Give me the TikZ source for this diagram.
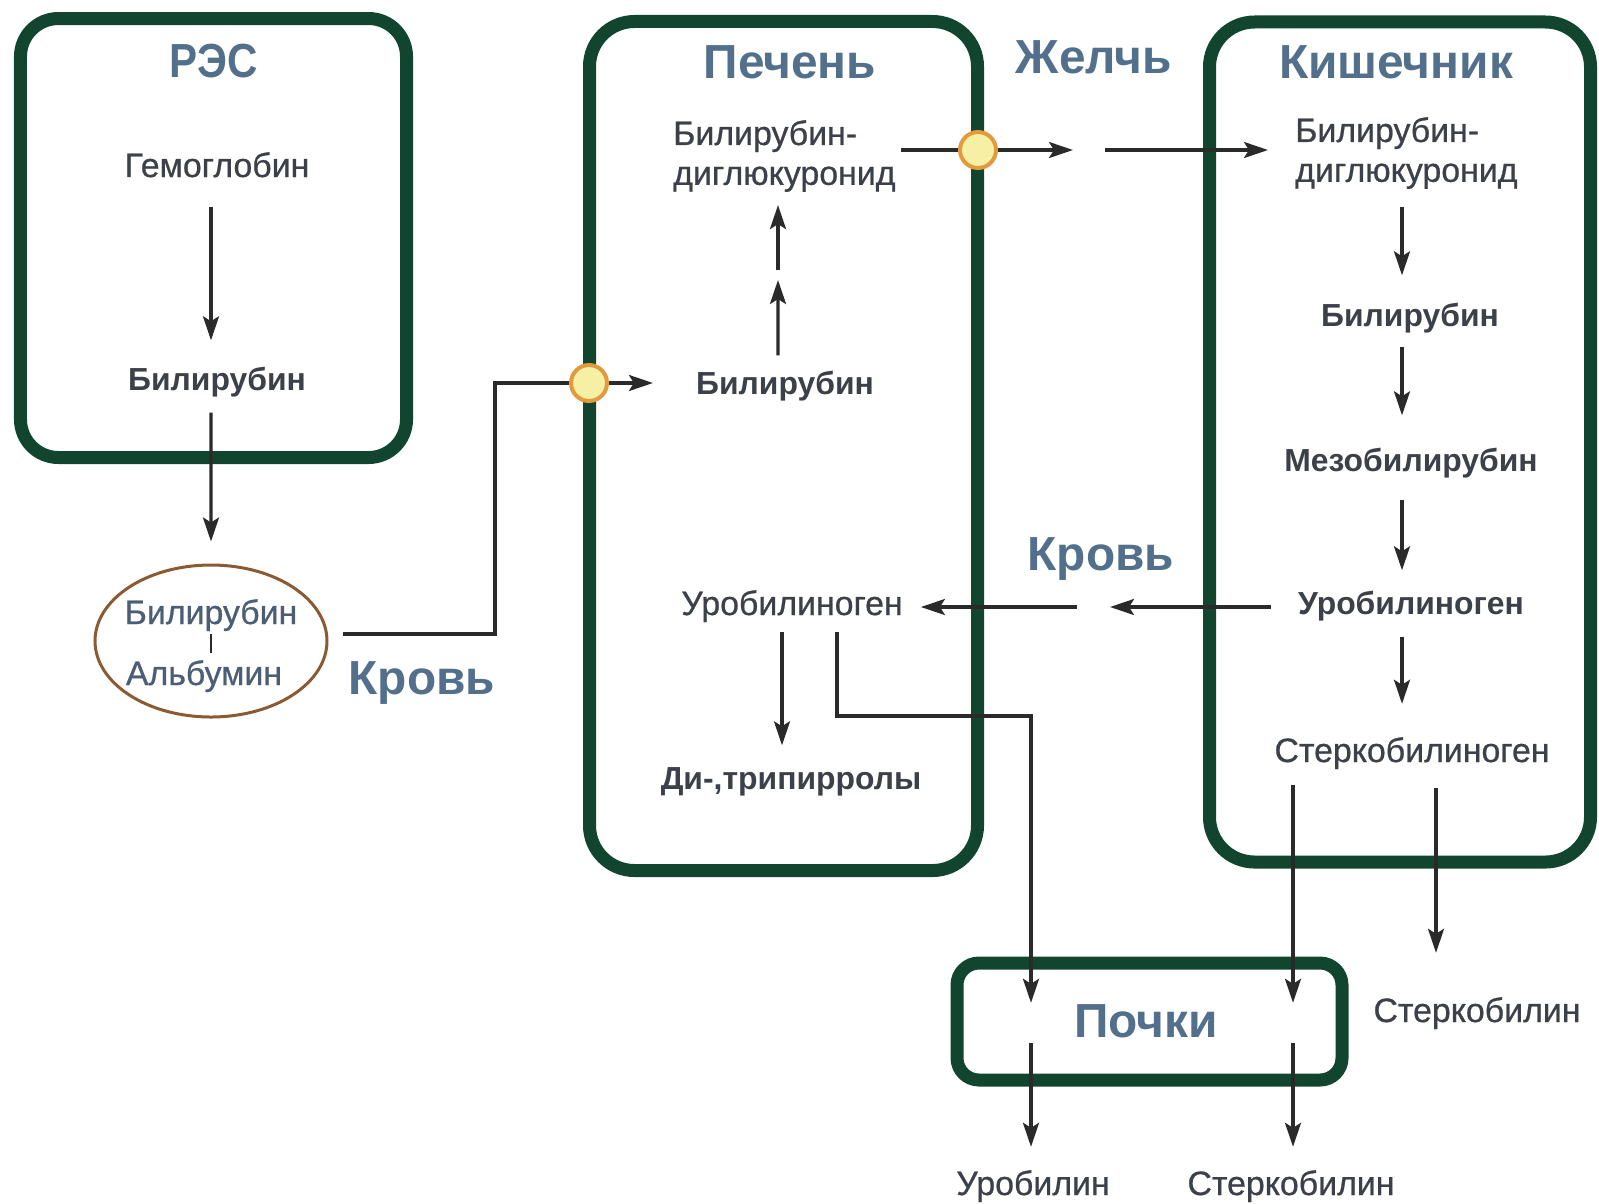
\documentclass[tikz,border=0pt]{standalone}
\usepackage{fontspec}
\setmainfont{Liberation Sans}
\newfontfamily\medfont[FakeBold=0.7]{Liberation Sans}
\usetikzlibrary{arrows.meta,shapes.geometric}
\definecolor{boxg}{HTML}{124530}
\definecolor{hdr}{HTML}{52708C}
\definecolor{txt}{HTML}{3C4048}
\definecolor{ellc}{HTML}{8A5A32}
\definecolor{elltxt}{HTML}{4C5E76}
\definecolor{cfill}{HTML}{F6F0A4}
\definecolor{cdraw}{HTML}{E39A3E}
\definecolor{arrc}{HTML}{2A2A2A}
\tikzset{
  box/.style={draw=boxg, line width=13bp, rounded corners=#1, inner sep=0pt, outer sep=0pt},
  box/.default=45bp,
  hd/.style={font=\fontsize{48}{50}\selectfont\bfseries, text=hdr, inner sep=0pt, text height=34bp, text depth=0pt},
  bt/.style={font=\fontsize{34}{40}\selectfont\medfont, text=txt, inner sep=0pt, text height=24bp, text depth=0pt},
  bb/.style={font=\fontsize{32}{38}\selectfont\bfseries, text=txt, inner sep=0pt, text height=23bp, text depth=0pt},
  tt/.style={font=\fontsize{34}{40}\selectfont\medfont, text=txt, inner sep=0pt, align=left},
  ln/.style={draw=arrc, line width=3.2bp},
  arr/.style={ln, -{Stealth[length=24bp,width=16bp,inset=5bp]}},
  junc/.style={circle, draw=cdraw, fill=cfill, line width=4bp, minimum size=36bp, inner sep=0pt},
}
\begin{document}
\begin{tikzpicture}[x=1bp,y=-1bp]
\useasboundingbox (0,0) rectangle (1599,1203);
% boxes
\node[box=38bp, minimum width=386bp, minimum height=439bp] (resbox) at (213.5,238) {};
\node[box, minimum width=388bp, minimum height=849bp] (liverbox) at (783.5,446) {};
\node[box, minimum width=381bp, minimum height=840bp] (kishbox) at (1400,442) {};
\node[box=22bp, minimum width=385bp, minimum height=117bp] (pochbox) at (1149.5,1021.5) {};
% headers
\node[hd] (res) at (214,60) {\scalebox{0.88}[1]{РЭС}};
\node[hd] (liver) at (790,61) {Печень};
\node[hd] (bile) at (1094,56) {Желчь};
\node[hd] (kish) at (1396,61) {Кишечник};
\node[hd] (blood1) at (422,677) {Кровь};
\node[hd] (blood2) at (1101,553) {Кровь};
\node[hd] (poch) at (1146,1020) {Почки};
% texts
\node[bt] (gem) at (217,165) {Гемоглобин};
\node[bb] (bil1) at (217,379) {Билирубин};
\node[ellipse, draw=ellc, line width=3bp, minimum width=232bp, minimum height=152bp, inner sep=0pt] (ell) at (211,641) {};
\node[bt, text=elltxt] (ellb) at (211,612) {Билирубин};
\node[bt, text=elltxt] (ella) at (204,673) {Альбумин};
\node[tt, anchor=west] (ldig) at (673,156) {Билирубин-\\диглюкуронид};
\node[bb] (lbil) at (785,383) {Билирубин};
\node[bt] (luro) at (792,603) {Уробилиноген};
\node[bb] (ldi) at (791,778) {Ди-,трипирролы};
\node[tt, anchor=west] (kdig) at (1295,153) {Билирубин-\\диглюкуронид};
\node[bb] (kbil) at (1410,315) {Билирубин};
\node[bb] (kmez) at (1411,460) {Мезобилирубин};
\node[bb] (kuro) at (1411,603) {Уробилиноген};
\node[bt] (kster) at (1412,750) {Стеркобилиноген};
\node[bt] (ster1) at (1477,1010) {Стеркобилин};
\node[bt] (urob) at (1033,1183) {Уробилин};
\node[bt] (ster2) at (1291,1183) {Стеркобилин};
% junctions
\node[junc] (c1) at (589,383) {};
\node[junc] (c2) at (978,150) {};
% helper coordinates
\coordinate (k1) at (495,634);
\coordinate (lmid) at (778,280);
\coordinate (jA) at (1073,150);
\coordinate (jB) at (1105,150);
\coordinate (jC) at (1110,607);
\coordinate (jD) at (1077,607);
\coordinate (lk) at (1031,716);
\coordinate (kx) at (1402,0);
\coordinate (lx) at (782,0);
\coordinate (lx2) at (837,0);
\coordinate (sx) at (1293,0);
\coordinate (sx2) at (1436,0);
% connectors
\draw[ln, line width=2.4bp, shorten <=10bp, shorten >=8bp] (ellb.south) -- (ellb.south |- ella.north);
\draw[arr, shorten <=30bp, shorten >=27bp] ([xshift=-6bp]gem.south) -- ([xshift=-6bp]bil1.north);
\draw[arr, shorten <=22bp, shorten >=22bp] ([xshift=-6bp]bil1.south) -- (ell.north);
\draw[ln, shorten <=14bp] (ell.east |- k1) -- (k1) |- (c1);
\draw[arr, shorten >=43bp] (c1) -- (lbil.west);
\draw[arr, shorten <=16bp] ([xshift=-7bp]lbil.north) -- (lmid);
\draw[arr, shorten <=10bp, shorten >=13bp] (lmid) -- (lmid |- ldig.south);
\draw[ln, shorten <=5bp] (ldig.east |- c2) -- (c2);
\draw[arr] (c2) -- (jA);
\draw[arr, shorten >=27bp] (jB) -- (jB -| kdig.west);
\draw[arr, shorten <=18bp, shorten >=28bp] (kx |- kdig.south) -- (kx |- kbil.north);
\draw[arr, shorten <=20bp, shorten >=33bp] (kx |- kbil.south) -- (kx |- kmez.north);
\draw[arr, shorten <=28bp, shorten >=21bp] (kx |- kmez.south) -- (kx |- kuro.north);
\draw[arr, shorten <=22bp, shorten >=34bp] (kx |- kuro.south) -- (kx |- kster.north);
\draw[arr, shorten <=27bp] (jC -| kuro.west) -- (jC);
\draw[arr, shorten >=18bp] (jD) -- (jD -| luro.east);
\draw[arr, shorten <=17bp, shorten >=21bp] (lx |- luro.south) -- (lx |- ldi.north);
\draw[arr, shorten <=17bp] (lx2 |- luro.south) |- (lk) -- (lk |- poch.north);
\draw[arr, shorten <=6bp, shorten >=24bp] (lk |- poch.south) -- (lk |- urob.north);
\draw[arr, shorten <=23bp] (sx |- kster.south) -- (sx |- poch.north);
\draw[arr, shorten <=6bp, shorten >=24bp] (sx |- poch.south) -- (sx |- ster2.north);
\draw[arr, shorten <=26bp, shorten >=45bp] (sx2 |- kster.south) -- (sx2 |- ster1.north);
\end{tikzpicture}
\end{document}
